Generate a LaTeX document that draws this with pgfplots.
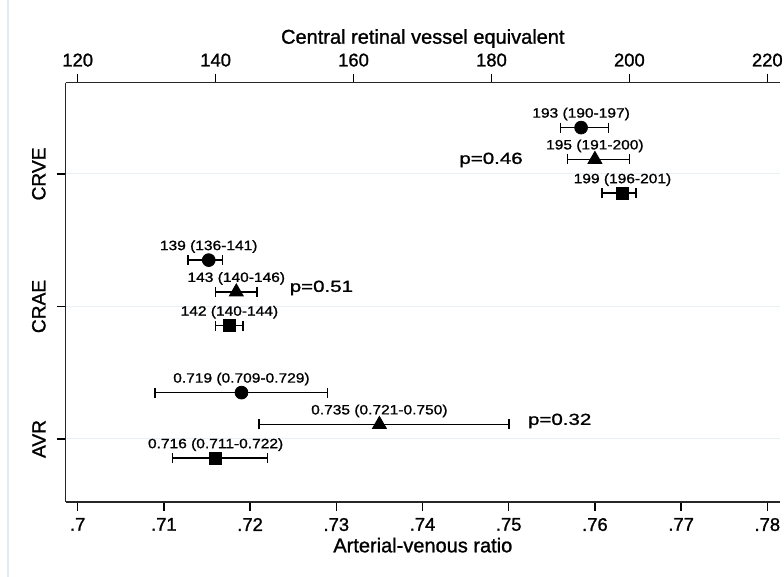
\documentclass[border=0pt]{standalone}
\usepackage{fontspec}
\setmainfont{Liberation Sans}[FakeBold=1.2]
\newfontfamily\lblfont{Liberation Sans}[FakeStretch=1.15, FakeBold=1.2]
\newfontfamily\pfont{Liberation Sans}[FakeStretch=1.28, FakeBold=1.2]
\usepackage{pgfplots}
\usepackage{pgfplotstable}
\pgfplotsset{compat=1.18}

\definecolor{gridc}{RGB}{232,240,244}
\definecolor{framec}{RGB}{226,234,240}

% vessel calibres (top axis), y: CRVE=3, CRAE=2, offsets per group
\pgfplotstableread[col sep=comma]{
x,y,lo,hi,lab
193,3.35,190,197,193 (190-197)
139,2.35,136,141,139 (136-141)
}\vesA
\pgfplotstableread[col sep=comma]{
x,y,lo,hi,lab
195,3.11,191,200,195 (191-200)
143,2.11,140,146,143 (140-146)
}\vesB
\pgfplotstableread[col sep=comma]{
x,y,lo,hi,lab
199,2.855,196,201,199 (196-201)
142,1.855,140,144,142 (140-144)
}\vesC
% arterial-venous ratio (bottom axis), y: AVR=1
\pgfplotstableread[col sep=comma]{
x,y,lo,hi,lab
0.719,1.35,0.709,0.729,0.719 (0.709-0.729)
}\avrA
\pgfplotstableread[col sep=comma]{
x,y,lo,hi,lab
0.735,1.11,0.721,0.750,0.735 (0.721-0.750)
}\avrB
\pgfplotstableread[col sep=comma]{
x,y,lo,hi,lab
0.716,0.855,0.711,0.722,0.716 (0.711-0.722)
}\avrC

\pgfplotsset{
  common/.style={
    at={(32.85pt,37.5pt)}, anchor=south west,
    scale only axis, width=357.15pt, height=209.65pt,
    ymin=0.5245, ymax=3.689,
    tick align=outside, major tick length=4.5pt,
    tick style={black, line width=0.75pt},
    axis line style={line width=0.75pt, black!85},
    ticklabel style={font=\fontsize{9.2}{10}\selectfont},
    label style={font=\fontsize{10}{12}\selectfont},
    point meta=explicit symbolic,
    nodes near coords,
    every node near coord/.append style={anchor=south, inner sep=0pt, yshift=3.4pt,
      font=\lblfont\fontsize{6.75}{8}\selectfont, text=black},
  },
  ci/.style={only marks, black, mark options={solid, fill=black, draw=black},
    error bars/x dir=both, error bars/x explicit,
    error bars/error mark=|,
    error bars/error bar style={line width=0.8pt, black},
    error bars/error mark options={solid, line width=0.8pt, black, mark size=2.5pt}},
}

\begin{document}
\begin{tikzpicture}
\useasboundingbox (0,0) rectangle (392pt,288.5pt);
\draw[framec, line width=0.6pt] (4pt,0) -- (4pt,288.5pt);

\begin{axis}[common,
  xmin=0.69861, xmax=0.78147,
  axis x line*=bottom, axis y line*=left,
  xtick={0.70,0.71,0.72,0.73,0.74,0.75,0.76,0.77,0.78},
  xticklabels={.7,.71,.72,.73,.74,.75,.76,.77,.78},
  ytick={1,2,3}, yticklabels={AVR,CRAE,CRVE},
  yticklabel style={rotate=90, anchor=south, font=\fontsize{9.6}{11}\selectfont},
  yticklabel shift=2pt,
  ymajorgrids, grid style={gridc, line width=0.5pt},
  xlabel={Arterial-venous ratio},
  xlabel style={yshift=3.5pt},
]
  \addplot[ci, mark=*, mark size=3.2pt] table[x=x, y=y, meta=lab,
    x error plus expr=\thisrow{hi}-\thisrow{x}, x error minus expr=\thisrow{x}-\thisrow{lo}] {\avrA};
  \addplot[ci, mark=triangle*, mark size=4pt] table[x=x, y=y, meta=lab,
    x error plus expr=\thisrow{hi}-\thisrow{x}, x error minus expr=\thisrow{x}-\thisrow{lo}] {\avrB};
  \addplot[ci, mark=square*, mark size=2.9pt] table[x=x, y=y, meta=lab,
    x error plus expr=\thisrow{hi}-\thisrow{x}, x error minus expr=\thisrow{x}-\thisrow{lo}] {\avrC};
  \node[anchor=west, inner sep=0pt, font=\pfont\fontsize{8}{10}\selectfont] at (axis cs:0.7522,1.136) {p=0.32};
\end{axis}

\begin{axis}[common,
  xmin=118.26, xmax=221.84,
  axis x line*=top, axis y line=none,
  xtick={120,140,160,180,200,220},
  xticklabels={120,140,160,180,200,220},
  xlabel={Central retinal vessel equivalent},
  xlabel style={yshift=-4pt},
]
  \addplot[ci, mark=*, mark size=3.2pt] table[x=x, y=y, meta=lab,
    x error plus expr=\thisrow{hi}-\thisrow{x}, x error minus expr=\thisrow{x}-\thisrow{lo}] {\vesA};
  \addplot[ci, mark=triangle*, mark size=4pt] table[x=x, y=y, meta=lab,
    x error plus expr=\thisrow{hi}-\thisrow{x}, x error minus expr=\thisrow{x}-\thisrow{lo}] {\vesB};
  \addplot[ci, mark=square*, mark size=2.9pt] table[x=x, y=y, meta=lab,
    x error plus expr=\thisrow{hi}-\thisrow{x}, x error minus expr=\thisrow{x}-\thisrow{lo}] {\vesC};
  \node[anchor=west, inner sep=0pt, font=\pfont\fontsize{8}{10}\selectfont] at (axis cs:175.3,3.106) {p=0.46};
  \node[anchor=west, inner sep=0pt, font=\pfont\fontsize{8}{10}\selectfont] at (axis cs:150.7,2.14) {p=0.51};
\end{axis}
\end{tikzpicture}
\end{document}
